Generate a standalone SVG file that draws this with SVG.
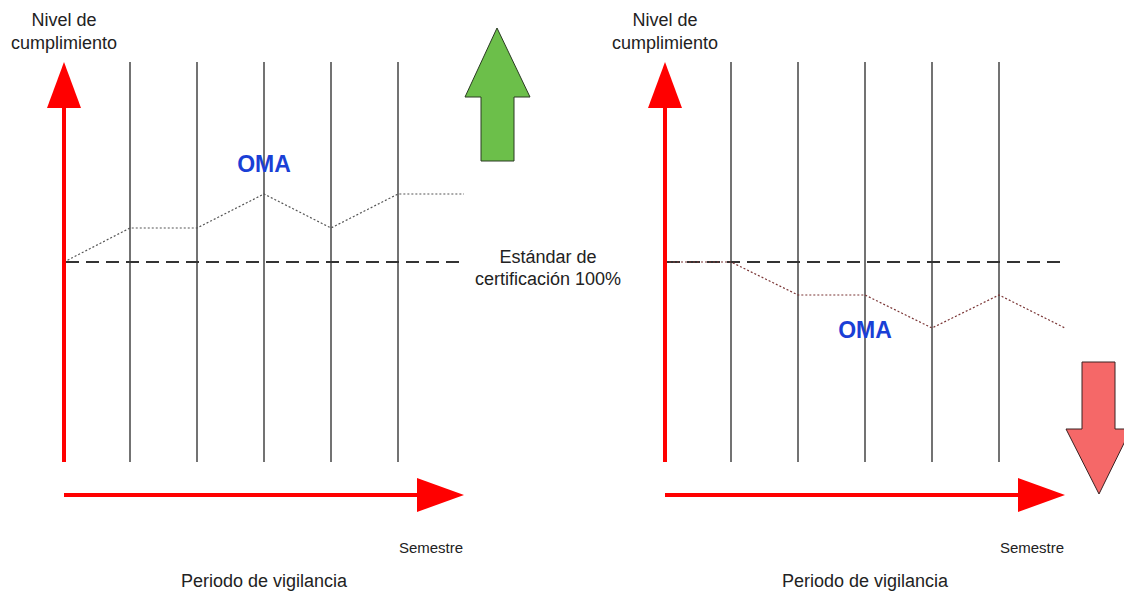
<svg xmlns="http://www.w3.org/2000/svg" width="1124" height="591" viewBox="0 0 1124 591">
<style>
text{font-family:"Liberation Sans",Arial,sans-serif;fill:#222}
.lbl{font-size:18px}
.sm{font-size:15px}
.oma{font-size:23px;font-weight:bold;fill:#1a3fd6}
.grid{stroke:#444;stroke-width:1.5}
.dash{stroke:#333;stroke-width:2;stroke-dasharray:13 7;fill:none}
.axis{stroke:#f00;stroke-width:4}
</style>
<rect width="1124" height="591" fill="#fff"/>
<g id="chart-left">
<g id="grid-left">
<line class="grid" x1="130" y1="62" x2="130" y2="462"/>
<line class="grid" x1="197" y1="62" x2="197" y2="462"/>
<line class="grid" x1="264" y1="62" x2="264" y2="462"/>
<line class="grid" x1="331" y1="62" x2="331" y2="462"/>
<line class="grid" x1="398" y1="62" x2="398" y2="462"/>
</g>
<line class="dash" x1="66" y1="262" x2="464" y2="262"/>
<polyline points="64,262 130,228 197,228 264,194 331,228 398,194 464,194" fill="none" stroke="#555" stroke-width="1.2" stroke-dasharray="2 2"/>
<g id="axis-y-left"><line class="axis" x1="64" y1="462" x2="64" y2="104"/><polygon points="64,62 81,108 47,108" fill="#f00"/></g>
<g id="axis-x-left"><line class="axis" x1="64" y1="495" x2="420" y2="495"/><polygon points="464,495 417,478 417,512" fill="#f00"/></g>
<text class="lbl" x="64" y="26" text-anchor="middle">Nivel de</text>
<text class="lbl" x="64" y="49" text-anchor="middle">cumplimiento</text>
<text class="oma" x="264" y="172" text-anchor="middle">OMA</text>
<text class="sm" x="431" y="553" text-anchor="middle">Semestre</text>
<text class="lbl" x="264" y="587" text-anchor="middle">Periodo de vigilancia</text>
</g>
<g id="std-label">
<text class="lbl" x="548" y="263" text-anchor="middle">Estándar de</text>
<text class="lbl" x="548" y="285" text-anchor="middle">certificación 100%</text>
</g>
<g id="up-arrow"><polygon points="497,28 530,97 514,97 514,161 481,161 481,97 465,97" fill="#6cbf4a" stroke="#2a3a22" stroke-width="1"/></g>
<g id="chart-right">
<g id="grid-right">
<line class="grid" x1="731" y1="62" x2="731" y2="462"/>
<line class="grid" x1="798" y1="62" x2="798" y2="462"/>
<line class="grid" x1="865" y1="62" x2="865" y2="462"/>
<line class="grid" x1="932" y1="62" x2="932" y2="462"/>
<line class="grid" x1="999" y1="62" x2="999" y2="462"/>
</g>
<line class="dash" x1="667" y1="262" x2="1065" y2="262"/>
<polyline points="665,262 731,262 798,295 865,295 932,328 999,295 1065,328" fill="none" stroke="#7a3535" stroke-width="1.2" stroke-dasharray="2 2"/>
<g id="axis-y-right"><line class="axis" x1="665" y1="462" x2="665" y2="104"/><polygon points="665,62 682,108 648,108" fill="#f00"/></g>
<g id="axis-x-right"><line class="axis" x1="665" y1="495" x2="1020" y2="495"/><polygon points="1065,495 1018,478 1018,512" fill="#f00"/></g>
<text class="lbl" x="665" y="26" text-anchor="middle">Nivel de</text>
<text class="lbl" x="665" y="49" text-anchor="middle">cumplimiento</text>
<text class="oma" x="865" y="338" text-anchor="middle">OMA</text>
<text class="sm" x="1032" y="553" text-anchor="middle">Semestre</text>
<text class="lbl" x="865" y="587" text-anchor="middle">Periodo de vigilancia</text>
</g>
<g id="down-arrow"><polygon points="1082,362 1115,362 1115,429 1131,429 1099,494 1066,429 1082,429" fill="#f56868" stroke="#3a2222" stroke-width="1"/></g>
</svg>
